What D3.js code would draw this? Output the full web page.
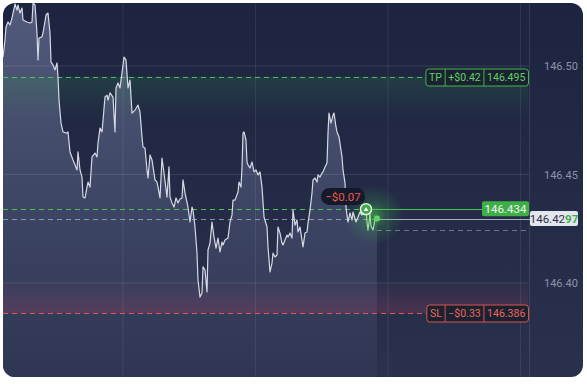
<!DOCTYPE html>
<html>
<head>
<meta charset="utf-8">
<script src="https://cdn.jsdelivr.net/npm/d3@7"></script>
<style>
body { margin: 0; background: #fff; }
svg { display: block; font-family: Roboto, "Noto Sans", sans-serif; }
</style>
</head>
<body>
<div id="chart-holder"></div>
<script>
// price history (seconds from chart start, quote)
var times = [0, 2, 3, 5, 7, 9, 12, 14, 15, 17, 19, 20, 24, 27, 29, 30, 32, 34, 35, 36, 39, 40, 43, 45, 47, 48, 50, 52, 54, 55, 56, 58, 60, 64, 65, 67, 70, 74, 75, 77, 79, 80, 82, 84, 85, 87, 89, 92, 94, 95, 97, 99,
    102, 104, 105, 107, 110, 112, 113, 115, 117, 119, 121, 123, 125, 127, 129, 132, 135, 137, 139, 140, 142, 144, 145, 147, 149, 152, 154, 155, 157, 159, 161, 164, 166, 167, 169, 171, 173, 175, 177, 179, 180, 182, 185, 187, 189, 190, 192, 194, 195, 197, 199,
    200, 202, 204, 205, 207, 209, 211, 213, 215, 217, 219, 220, 222, 225, 227, 229, 230, 232, 235, 236, 238, 239, 240, 241, 243, 244, 245, 247, 249, 251, 253, 255, 257, 259, 261, 264, 265, 267, 269, 270, 272, 274, 275, 277, 279, 280, 282, 284, 285, 287, 289, 290, 292, 294, 295, 297, 299,
    300, 302, 304, 305, 307, 309, 310, 312, 314, 315, 317, 319, 320, 322, 324, 325, 326, 328, 330, 331, 333, 334, 336, 339, 340, 342, 343, 344, 345, 347, 349, 350, 353, 355, 357, 359, 361, 363];
var prices = [146.5041, 146.5120, 146.5180, 146.5203, 146.5189, 146.5221, 146.5286, 146.5258, 146.5281, 146.5244, 146.5267, 146.5212, 146.5203, 146.5198, 146.5203, 146.5290, 146.5281, 146.5152, 146.5028, 146.5129, 146.5134, 146.5152, 146.5235, 146.5244, 146.5152, 146.5018, 146.5005, 146.4982, 146.5014, 146.4949, 146.4843, 146.4737, 146.4696, 146.4691, 146.4696, 146.4604, 146.4567, 146.4521, 146.4604, 146.4521, 146.4488, 146.4396, 146.4392, 146.4442, 146.4465, 146.4442, 146.4581, 146.4599, 146.4581, 146.4645, 146.4714, 146.4696,
    146.4857, 146.4866, 146.4843, 146.4876, 146.4857, 146.4696, 146.4899, 146.4922, 146.4899, 146.4968, 146.5041, 146.5028, 146.4899, 146.4935, 146.4783, 146.4797, 146.4820, 146.4788, 146.4673, 146.4627, 146.4622, 146.4521, 146.4484, 146.4590, 146.4567, 146.4475, 146.4465, 146.4442, 146.4392, 146.4576, 146.4507, 146.4396, 146.4535, 146.4396, 146.4369, 146.4350, 146.4392, 146.4369, 146.4387, 146.4392, 146.4475, 146.4415, 146.4350, 146.4281, 146.4350, 146.4336, 146.4258, 146.4138, 146.4014, 146.3935, 146.3954,
    146.4074, 146.4060, 146.3959, 146.4152, 146.4184, 146.4281, 146.4212, 146.4161, 146.4207, 146.4143, 146.4189, 146.4175, 146.4198, 146.4207, 146.4281, 146.4313, 146.4382, 146.4382, 146.4419, 146.4465, 146.4442, 146.4535, 146.4691, 146.4696, 146.4659, 146.4558, 146.4544, 146.4530, 146.4558, 146.4512, 146.4521, 146.4498, 146.4512, 146.4442, 146.4304, 146.4258, 146.4166, 146.4051, 146.4092, 146.4138, 146.4120, 146.4129, 146.4258, 146.4230, 146.4184, 146.4175, 146.4198, 146.4221, 146.4212, 146.4230, 146.4207, 146.4336, 146.4267, 146.4290, 146.4235, 146.4258, 146.4198,
    146.4166, 146.4230, 146.4235, 146.4276, 146.4336, 146.4415, 146.4475, 146.4484, 146.4465, 146.4498, 146.4488, 146.4507, 146.4512, 146.4535, 146.4553, 146.4691, 146.4783, 146.4737, 146.4774, 146.4783, 146.4719, 146.4696, 146.4673, 146.4581, 146.4521, 146.4461, 146.4350, 146.4313, 146.4281, 146.4323, 146.4290, 146.4327, 146.4281, 146.4304, 146.4327, 146.4313, 146.4336, 146.4340];
// ticks after the trade was opened
var tailTimes = [363, 364, 365, 367, 368, 370, 372, 374];
var tailPrices = [146.4340, 146.4281, 146.4244, 146.4318, 146.4263, 146.4244, 146.4295, 146.4297];

var gridTimes = [120, 252.5, 385, 517.5];
var priceTicks = [146.40, 146.45, 146.50];

var openTime = 363, openPrice = 146.434;
var currentTime = 374, currentPrice = 146.4297;
var prevPrice = 146.4245;
var takeProfit = 146.495, stopLoss = 146.386;
var tpParts = ["TP", "+$0.42", "146.495"];
var slParts = ["SL", "\u2212$0.33", "146.386"];
var pnlText = "\u2212$0.07";

var W = 587, H = 384;
var frame = { left: 3, top: 3, right: 583, bottom: 377 };
var plotRight = 528;

var svg = d3.select('#chart-holder')
    .append('svg')
    .attr('width', W)
    .attr('height', H);

var defs = svg.append('defs');

defs.append('clipPath').attr('id', 'frame')
    .append('rect')
    .attr('x', frame.left).attr('y', frame.top)
    .attr('width', frame.right - frame.left).attr('height', frame.bottom - frame.top)
    .attr('rx', 12);

function vGradient(id, y1, y2, stops) {
    var g = defs.append('linearGradient').attr('id', id)
        .attr('gradientUnits', 'userSpaceOnUse')
        .attr('x1', 0).attr('x2', 0).attr('y1', y1).attr('y2', y2);
    stops.forEach(function (s) {
        g.append('stop').attr('offset', s[0]).attr('stop-color', s[1]).attr('stop-opacity', s[2]);
    });
}

var x = d3.scaleLinear().domain([0, 525]).range([frame.left, plotRight]);
var y = d3.scaleLinear().domain([146.40, 146.50]).range([283, 66]);

vGradient('bg', frame.top, frame.bottom, [[0, '#1d2440', 1], [1, '#2a314c', 1]]);
vGradient('areaFill', 0, frame.bottom, [[0, '#525b7c', 1], [0.55, '#3d4564', 1], [1, '#2f3653', 1]]);
vGradient('tpBand', y(takeProfit), y(takeProfit) + 40, [[0, '#2f9a4a', 0.2], [0.5, '#2f9a4a', 0.1], [1, '#2f9a4a', 0]]);
vGradient('slBand', y(stopLoss) - 34, y(stopLoss), [[0, '#c8456e', 0], [1, '#c8456e', 0.22]]);

var glow = defs.append('radialGradient').attr('id', 'glow');
glow.append('stop').attr('offset', 0).attr('stop-color', '#55d655').attr('stop-opacity', 0.55);
glow.append('stop').attr('offset', 0.45).attr('stop-color', '#3fb94a').attr('stop-opacity', 0.22);
glow.append('stop').attr('offset', 1).attr('stop-color', '#3fb94a').attr('stop-opacity', 0);

var root = svg.append('g').attr('clip-path', 'url(#frame)');

root.append('rect')
    .attr('x', frame.left).attr('y', frame.top)
    .attr('width', frame.right - frame.left).attr('height', frame.bottom - frame.top)
    .attr('fill', 'url(#bg)');

var histPts = times.map(function (t, i) { return [t, prices[i]]; });
var tailPts = tailTimes.map(function (t, i) { return [t, tailPrices[i]]; });
var allPts = histPts.concat(tailPts.slice(1));

// area under the price line
root.append('path')
    .datum(allPts)
    .attr('fill', 'url(#areaFill)')
    .attr('d', d3.area()
        .x(function (d) { return x(d[0]); })
        .y0(frame.bottom)
        .y1(function (d) { return y(d[1]); }));

// TP / SL zones
root.append('rect')
    .attr('x', frame.left).attr('y', y(takeProfit))
    .attr('width', plotRight - frame.left).attr('height', 40)
    .attr('fill', 'url(#tpBand)');
root.append('rect')
    .attr('x', frame.left).attr('y', y(stopLoss) - 34)
    .attr('width', plotRight - frame.left).attr('height', 34)
    .attr('fill', 'url(#slBand)');

// grid
root.selectAll('.hgrid')
    .data(priceTicks)
    .enter()
    .append('line')
    .attr('class', 'hgrid')
    .attr('x1', frame.left).attr('x2', plotRight + 1)
    .attr('y1', function (d) { return y(d); })
    .attr('y2', function (d) { return y(d); })
    .attr('stroke', '#ffffff').attr('stroke-opacity', 0.1);

root.selectAll('.vgrid')
    .data(gridTimes)
    .enter()
    .append('line')
    .attr('class', 'vgrid')
    .attr('x1', function (d) { return x(d); })
    .attr('x2', function (d) { return x(d); })
    .attr('y1', frame.top).attr('y2', frame.bottom)
    .attr('stroke', '#ffffff').attr('stroke-opacity', 0.08);

root.append('line')
    .attr('x1', plotRight + 1.5).attr('x2', plotRight + 1.5)
    .attr('y1', frame.top).attr('y2', frame.bottom)
    .attr('stroke', '#ffffff').attr('stroke-opacity', 0.1);

// price axis
var axis = root.append('g')
    .attr('transform', 'translate(544,0)')
    .call(d3.axisRight(y).tickValues(priceTicks).tickSize(0).tickPadding(0)
        .tickFormat(d3.format('.2f')));
axis.select('.domain').remove();
axis.selectAll('text')
    .attr('fill', '#8c93a9')
    .attr('font-size', 11)
    .attr('font-family', 'Roboto, sans-serif');

function hline(x1, x2, price, color, dashed, opacity) {
    root.append('line')
        .attr('x1', x1).attr('x2', x2)
        .attr('y1', Math.round(y(price)) + 0.5).attr('y2', Math.round(y(price)) + 0.5)
        .attr('stroke', color)
        .attr('stroke-opacity', opacity || 1)
        .attr('stroke-dasharray', dashed ? '5,4' : null);
}

hline(frame.left, 430, takeProfit, '#4cbf55', true);
hline(frame.left, 429, stopLoss, '#e0574f', true);
hline(frame.left, x(openTime), openPrice, '#4cbf55', true);
hline(x(openTime), 482, openPrice, '#4cbf55', false);
hline(frame.left, x(currentTime), currentPrice, '#a4aac0', true, 0.8);
hline(x(currentTime), 530, currentPrice, '#b8bdcc', false, 0.9);
hline(x(currentTime), 530, prevPrice, '#8f96ad', true, 0.7);

// glow around the live end
root.append('circle')
    .attr('cx', x(currentTime) - 3).attr('cy', y(currentPrice) - 3)
    .attr('r', 30)
    .attr('fill', 'url(#glow)');

// price lines
var line = d3.line()
    .x(function (d) { return x(d[0]); })
    .y(function (d) { return y(d[1]); });

root.append('path')
    .datum(histPts)
    .attr('fill', 'none')
    .attr('stroke', '#d6d9e5')
    .attr('stroke-width', 1.2)
    .attr('stroke-linejoin', 'round')
    .attr('d', line);

root.append('path')
    .datum(tailPts)
    .attr('fill', 'none')
    .attr('stroke', '#9ee39e')
    .attr('stroke-width', 1.2)
    .attr('stroke-linejoin', 'round')
    .attr('d', line);

root.append('circle')
    .attr('cx', x(currentTime)).attr('cy', y(currentPrice))
    .attr('r', 3).attr('fill', '#5fd65f');

// open marker
var mx = x(openTime), my = y(openPrice);
root.append('circle')
    .attr('cx', mx).attr('cy', my).attr('r', 5.5)
    .attr('fill', '#3ea947').attr('stroke', '#e4f5e4').attr('stroke-width', 1.5);
root.append('path')
    .attr('d', 'M' + mx + ',' + (my - 2.2) + 'L' + (mx + 2.4) + ',' + (my + 1.8) + 'L' + (mx - 2.4) + ',' + (my + 1.8) + 'Z')
    .attr('fill', '#ffffff');

// tagged boxes (TP / SL)
function tag(price, parts, color, textColor) {
    var cy = Math.round(y(price)) + 0.5;
    var g = root.append('g');
    var right = 528.5, pad = 3.2, h = 17;
    var cursor = right;
    var seps = [];
    for (var i = parts.length - 1; i >= 0; i--) {
        var t = g.append('text')
            .attr('x', cursor - pad)
            .attr('y', cy)
            .attr('dy', '0.36em')
            .attr('text-anchor', 'end')
            .attr('font-size', 10.5)
            .attr('fill', textColor)
            .text(parts[i]);
        cursor -= t.node().getComputedTextLength() + pad * 2;
        if (i > 0) seps.push(cursor);
    }
    g.insert('rect', 'text')
        .attr('x', cursor).attr('y', cy - h / 2)
        .attr('width', right - cursor).attr('height', h)
        .attr('rx', 3)
        .attr('fill', '#1a2232')
        .attr('stroke', color);
    seps.forEach(function (s) {
        g.append('line')
            .attr('x1', s).attr('x2', s)
            .attr('y1', cy - h / 2).attr('y2', cy + h / 2)
            .attr('stroke', color);
    });
}

tag(takeProfit, tpParts, '#45b34d', '#62cf62');
tag(stopLoss, slParts, '#d9544c', '#f06558');

// open price label
var oy = y(openPrice);
root.append('rect')
    .attr('x', 482).attr('y', oy - 8)
    .attr('width', 47).attr('height', 15)
    .attr('rx', 2)
    .attr('fill', '#3fae49');
root.append('text')
    .attr('x', 505.5).attr('y', oy - 0.5)
    .attr('dy', '0.36em')
    .attr('text-anchor', 'middle')
    .attr('font-size', 11.5)
    .attr('fill', '#eef8ee')
    .text(d3.format('.3f')(openPrice));

// current price label
var cyP = y(currentPrice);
var priceStr = d3.format('.4f')(currentPrice);
root.append('rect')
    .attr('x', 530).attr('y', cyP - 7.5)
    .attr('width', 48).attr('height', 15)
    .attr('rx', 2)
    .attr('fill', '#e3e6ed');
var ct = root.append('text')
    .attr('x', 554).attr('y', cyP)
    .attr('dy', '0.36em')
    .attr('text-anchor', 'middle')
    .attr('font-size', 11.5)
    .attr('fill', '#2a3044');
ct.append('tspan').text(priceStr.slice(0, -2));
ct.append('tspan').attr('fill', '#3fae49').attr('font-weight', 'bold').text(priceStr.slice(-2));

// running P/L bubble
root.append('rect')
    .attr('x', 321).attr('y', 188)
    .attr('width', 44).attr('height', 17)
    .attr('rx', 8.5)
    .attr('fill', '#131a2b');
root.append('text')
    .attr('x', 343).attr('y', 196.5)
    .attr('dy', '0.36em')
    .attr('text-anchor', 'middle')
    .attr('font-size', 11.5)
    .attr('fill', '#f2594c')
    .text(pnlText);
</script>
</body>
</html>
